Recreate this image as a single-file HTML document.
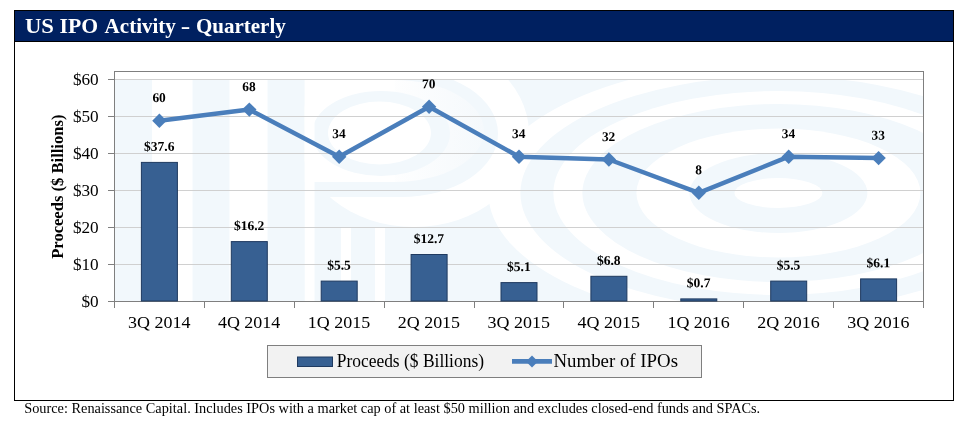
<!DOCTYPE html>
<html lang="en"><head><meta charset="utf-8"><title>US IPO Activity - Quarterly</title>
<style>html,body{margin:0;padding:0;background:#fff}svg{display:block}text{font-family:"Liberation Serif",serif;fill:#000}</style>
</head><body>
<svg width="970" height="428" viewBox="0 0 970 428">
<rect width="970" height="428" fill="#fff"/>
<defs><clipPath id="wm"><rect x="115" y="79" width="808" height="222"/></clipPath></defs>
<g clip-path="url(#wm)">
<rect x="115" y="79" width="808" height="222" fill="#f2f8fc"/>
<rect x="152" y="79" width="40.5" height="222" fill="#ffffff"/>
<rect x="229.5" y="79" width="38" height="222" fill="#ffffff"/>
<ellipse cx="778.4" cy="193" rx="290" ry="132" fill="#ffffff"/>
<ellipse cx="778.4" cy="193" rx="258" ry="117" fill="#f2f8fc"/>
<ellipse cx="778.4" cy="193" rx="225" ry="102" fill="#ffffff"/>
<ellipse cx="778.4" cy="193" rx="196" ry="89" fill="#f2f8fc"/>
<ellipse cx="778.4" cy="193" rx="142" ry="64.5" fill="#ffffff"/>
<ellipse cx="778.4" cy="193" rx="89" ry="40" fill="#f2f8fc"/>
<ellipse cx="778.4" cy="193" rx="44" ry="15" fill="#ffffff"/>
<clipPath id="pc"><rect x="304.5" y="79" width="400" height="222"/></clipPath>
<g clip-path="url(#pc)">
<ellipse cx="414" cy="133.5" rx="115" ry="93.5" fill="#ffffff"/>
<ellipse cx="401" cy="133.5" rx="97" ry="63.5" fill="#f2f8fc"/>
<rect x="304.5" y="79" width="96" height="118" fill="#f2f8fc"/>
<linearGradient id="pg" gradientUnits="userSpaceOnUse" x1="380" y1="0" x2="484" y2="0"><stop offset="0" stop-color="#ffffff"/><stop offset="1" stop-color="#f5f9fc"/></linearGradient>
<ellipse cx="394.5" cy="131" rx="89.5" ry="51" fill="url(#pg)"/>
<rect x="304.5" y="80" width="90" height="102" fill="#ffffff"/>
<ellipse cx="381" cy="133.5" rx="69" ry="42.5" fill="#f2f8fc"/>
<ellipse cx="379.5" cy="133" rx="51.5" ry="31.5" fill="#ffffff"/>
<rect x="304.5" y="79" width="10" height="222" fill="#ffffff"/>
<rect x="341" y="227" width="10" height="74" fill="#ffffff"/>
<rect x="375" y="227" width="10" height="74" fill="#ffffff"/>
</g>
</g>
<g stroke="#d0d0d0" stroke-width="1" shape-rendering="crispEdges">
<line x1="115" x2="923" y1="264.5" y2="264.5"/>
<line x1="115" x2="923" y1="227.5" y2="227.5"/>
<line x1="115" x2="923" y1="190.5" y2="190.5"/>
<line x1="115" x2="923" y1="153.5" y2="153.5"/>
<line x1="115" x2="923" y1="116.5" y2="116.5"/>
<line x1="115" x2="923" y1="79.5" y2="79.5"/>
</g>
<rect x="114.5" y="71.5" width="809.0" height="230.0" fill="none" stroke="#7f7f7f" stroke-width="1" shape-rendering="crispEdges"/>
<g stroke="#7f7f7f" stroke-width="1" shape-rendering="crispEdges">
<line x1="108" x2="114" y1="301.5" y2="301.5"/>
<line x1="108" x2="114" y1="264.5" y2="264.5"/>
<line x1="108" x2="114" y1="227.5" y2="227.5"/>
<line x1="108" x2="114" y1="190.5" y2="190.5"/>
<line x1="108" x2="114" y1="153.5" y2="153.5"/>
<line x1="108" x2="114" y1="116.5" y2="116.5"/>
<line x1="108" x2="114" y1="79.5" y2="79.5"/>
<line x1="114.5" x2="114.5" y1="301" y2="308"/>
<line x1="204.5" x2="204.5" y1="301" y2="308"/>
<line x1="294.5" x2="294.5" y1="301" y2="308"/>
<line x1="384.5" x2="384.5" y1="301" y2="308"/>
<line x1="474.5" x2="474.5" y1="301" y2="308"/>
<line x1="563.5" x2="563.5" y1="301" y2="308"/>
<line x1="653.5" x2="653.5" y1="301" y2="308"/>
<line x1="743.5" x2="743.5" y1="301" y2="308"/>
<line x1="833.5" x2="833.5" y1="301" y2="308"/>
<line x1="923.5" x2="923.5" y1="301" y2="308"/>
</g>
<text x="98.7" y="306.8" font-size="17" text-anchor="end" textLength="17.2" lengthAdjust="spacingAndGlyphs">$0</text>
<text x="98.7" y="269.8" font-size="17" text-anchor="end" textLength="25.8" lengthAdjust="spacingAndGlyphs">$10</text>
<text x="98.7" y="232.8" font-size="17" text-anchor="end" textLength="25.8" lengthAdjust="spacingAndGlyphs">$20</text>
<text x="98.7" y="195.8" font-size="17" text-anchor="end" textLength="25.8" lengthAdjust="spacingAndGlyphs">$30</text>
<text x="98.7" y="158.8" font-size="17" text-anchor="end" textLength="25.8" lengthAdjust="spacingAndGlyphs">$40</text>
<text x="98.7" y="121.8" font-size="17" text-anchor="end" textLength="25.8" lengthAdjust="spacingAndGlyphs">$50</text>
<text x="98.7" y="84.8" font-size="17" text-anchor="end" textLength="25.8" lengthAdjust="spacingAndGlyphs">$60</text>
<text transform="translate(63.4,258.8) rotate(-90)" font-size="16" font-weight="bold" textLength="144.2" lengthAdjust="spacingAndGlyphs">Proceeds ($ Billions)</text>
<rect x="141.4" y="162.4" width="36" height="138.6" fill="#376092" stroke="#1f3a60" stroke-width="1"/>
<text transform="translate(159.2,150.8) rotate(0.03) scale(1.01,1)" font-size="13.4" font-weight="bold" text-anchor="middle">$37.6</text>
<rect x="231.3" y="241.6" width="36" height="59.4" fill="#376092" stroke="#1f3a60" stroke-width="1"/>
<text transform="translate(249.1,230.0) rotate(0.03) scale(1.01,1)" font-size="13.4" font-weight="bold" text-anchor="middle">$16.2</text>
<rect x="321.2" y="281.1" width="36" height="19.9" fill="#376092" stroke="#1f3a60" stroke-width="1"/>
<text transform="translate(339.0,269.5) rotate(0.03) scale(1.01,1)" font-size="13.4" font-weight="bold" text-anchor="middle">$5.5</text>
<rect x="411.1" y="254.5" width="36" height="46.5" fill="#376092" stroke="#1f3a60" stroke-width="1"/>
<text transform="translate(428.9,242.9) rotate(0.03) scale(1.01,1)" font-size="13.4" font-weight="bold" text-anchor="middle">$12.7</text>
<rect x="501.0" y="282.6" width="36" height="18.4" fill="#376092" stroke="#1f3a60" stroke-width="1"/>
<text transform="translate(518.8,271.0) rotate(0.03) scale(1.01,1)" font-size="13.4" font-weight="bold" text-anchor="middle">$5.1</text>
<rect x="590.9" y="276.3" width="36" height="24.7" fill="#376092" stroke="#1f3a60" stroke-width="1"/>
<text transform="translate(608.7,264.7) rotate(0.03) scale(1.01,1)" font-size="13.4" font-weight="bold" text-anchor="middle">$6.8</text>
<rect x="680.8" y="298.9" width="36" height="2.1" fill="#376092" stroke="#1f3a60" stroke-width="1"/>
<text transform="translate(698.6,287.3) rotate(0.03) scale(1.01,1)" font-size="13.4" font-weight="bold" text-anchor="middle">$0.7</text>
<rect x="770.7" y="281.1" width="36" height="19.9" fill="#376092" stroke="#1f3a60" stroke-width="1"/>
<text transform="translate(788.5,269.5) rotate(0.03) scale(1.01,1)" font-size="13.4" font-weight="bold" text-anchor="middle">$5.5</text>
<rect x="860.6" y="278.9" width="36" height="22.1" fill="#376092" stroke="#1f3a60" stroke-width="1"/>
<text transform="translate(878.4,267.3) rotate(0.03) scale(1.01,1)" font-size="13.4" font-weight="bold" text-anchor="middle">$6.1</text>
<polyline points="159.4,120.7 249.3,109.6 339.2,156.7 429.1,106.8 519.0,156.7 608.9,159.5 698.8,192.8 788.7,156.7 878.6,158.1" fill="none" stroke="#4a7ebb" stroke-width="4.5" stroke-linejoin="round" stroke-linecap="round"/>
<path d="M152.2,120.7 L159.4,113.5 L166.6,120.7 L159.4,127.9 Z" fill="#4a7ebb"/>
<text transform="translate(159.1,102.1) rotate(0.03) scale(1.0,1)" font-size="13.4" font-weight="bold" text-anchor="middle">60</text>
<path d="M242.1,109.6 L249.3,102.4 L256.5,109.6 L249.3,116.8 Z" fill="#4a7ebb"/>
<text transform="translate(249.0,91.0) rotate(0.03) scale(1.0,1)" font-size="13.4" font-weight="bold" text-anchor="middle">68</text>
<path d="M332.0,156.7 L339.2,149.5 L346.4,156.7 L339.2,163.9 Z" fill="#4a7ebb"/>
<text transform="translate(338.9,138.1) rotate(0.03) scale(1.0,1)" font-size="13.4" font-weight="bold" text-anchor="middle">34</text>
<path d="M421.9,106.8 L429.1,99.6 L436.3,106.8 L429.1,114.0 Z" fill="#4a7ebb"/>
<text transform="translate(428.8,88.2) rotate(0.03) scale(1.0,1)" font-size="13.4" font-weight="bold" text-anchor="middle">70</text>
<path d="M511.8,156.7 L519.0,149.5 L526.2,156.7 L519.0,163.9 Z" fill="#4a7ebb"/>
<text transform="translate(518.7,138.1) rotate(0.03) scale(1.0,1)" font-size="13.4" font-weight="bold" text-anchor="middle">34</text>
<path d="M601.7,159.5 L608.9,152.3 L616.1,159.5 L608.9,166.7 Z" fill="#4a7ebb"/>
<text transform="translate(608.6,140.9) rotate(0.03) scale(1.0,1)" font-size="13.4" font-weight="bold" text-anchor="middle">32</text>
<path d="M691.6,192.8 L698.8,185.6 L706.0,192.8 L698.8,200.0 Z" fill="#4a7ebb"/>
<text transform="translate(698.5,174.2) rotate(0.03) scale(1.0,1)" font-size="13.4" font-weight="bold" text-anchor="middle">8</text>
<path d="M781.5,156.7 L788.7,149.5 L795.9,156.7 L788.7,163.9 Z" fill="#4a7ebb"/>
<text transform="translate(788.4,138.1) rotate(0.03) scale(1.0,1)" font-size="13.4" font-weight="bold" text-anchor="middle">34</text>
<path d="M871.4,158.1 L878.6,150.9 L885.8,158.1 L878.6,165.3 Z" fill="#4a7ebb"/>
<text transform="translate(878.3,139.5) rotate(0.03) scale(1.0,1)" font-size="13.4" font-weight="bold" text-anchor="middle">33</text>
<text x="159.2" y="328.4" font-size="17" text-anchor="middle" textLength="62.4" lengthAdjust="spacingAndGlyphs">3Q 2014</text>
<text x="249.1" y="328.4" font-size="17" text-anchor="middle" textLength="62.4" lengthAdjust="spacingAndGlyphs">4Q 2014</text>
<text x="339.0" y="328.4" font-size="17" text-anchor="middle" textLength="62.4" lengthAdjust="spacingAndGlyphs">1Q 2015</text>
<text x="428.9" y="328.4" font-size="17" text-anchor="middle" textLength="62.4" lengthAdjust="spacingAndGlyphs">2Q 2015</text>
<text x="518.8" y="328.4" font-size="17" text-anchor="middle" textLength="62.4" lengthAdjust="spacingAndGlyphs">3Q 2015</text>
<text x="608.7" y="328.4" font-size="17" text-anchor="middle" textLength="62.4" lengthAdjust="spacingAndGlyphs">4Q 2015</text>
<text x="698.6" y="328.4" font-size="17" text-anchor="middle" textLength="62.4" lengthAdjust="spacingAndGlyphs">1Q 2016</text>
<text x="788.5" y="328.4" font-size="17" text-anchor="middle" textLength="62.4" lengthAdjust="spacingAndGlyphs">2Q 2016</text>
<text x="878.4" y="328.4" font-size="17" text-anchor="middle" textLength="62.4" lengthAdjust="spacingAndGlyphs">3Q 2016</text>
<rect x="267.5" y="345.5" width="434" height="32" fill="#f2f2f2" stroke="#7f7f7f" stroke-width="1" shape-rendering="crispEdges"/>
<rect x="297.5" y="357" width="35" height="9.5" fill="#376092" stroke="#1f3a60" stroke-width="1"/>
<text x="336.7" y="367.2" font-size="17.8" textLength="147.3" lengthAdjust="spacingAndGlyphs">Proceeds ($ Billions)</text>
<line x1="512" x2="552" y1="361.4" y2="361.4" stroke="#4a7ebb" stroke-width="4.8"/>
<path d="M526,361.5 L532,355.5 L538,361.5 L532,367.5 Z" fill="#4a7ebb"/>
<text x="553.5" y="367.2" font-size="17.8" textLength="124.5" lengthAdjust="spacingAndGlyphs">Number of IPOs</text>
<rect x="14" y="10" width="940" height="32" fill="#002060"/>
<g fill="#000" shape-rendering="crispEdges">
<rect x="14" y="10" width="940" height="1"/>
<rect x="14" y="41" width="940" height="1"/>
<rect x="14" y="400" width="940" height="1"/>
<rect x="14" y="10" width="1" height="391"/>
<rect x="953" y="10" width="1" height="391"/>
</g>
<g font-size="22" font-weight="bold" style="fill:#fff">
<text x="24.9" y="33.2" style="fill:#fff" textLength="29.0" lengthAdjust="spacingAndGlyphs">US</text>
<text x="59.6" y="33.2" style="fill:#fff" textLength="38.6" lengthAdjust="spacingAndGlyphs">IPO</text>
<text x="104.6" y="33.2" style="fill:#fff" textLength="71.3" lengthAdjust="spacingAndGlyphs">Activity</text>
<text x="180.8" y="33.2" style="fill:#fff" textLength="9.5" lengthAdjust="spacingAndGlyphs">-</text>
<text x="195.9" y="33.2" style="fill:#fff" textLength="89.9" lengthAdjust="spacingAndGlyphs">Quarterly</text>
</g>
<text x="24.2" y="412.7" font-size="14" textLength="736" lengthAdjust="spacingAndGlyphs">Source: Renaissance Capital. Includes IPOs with a market cap of at least $50 million and excludes closed-end funds and SPACs.</text>
</svg>
</body></html>
